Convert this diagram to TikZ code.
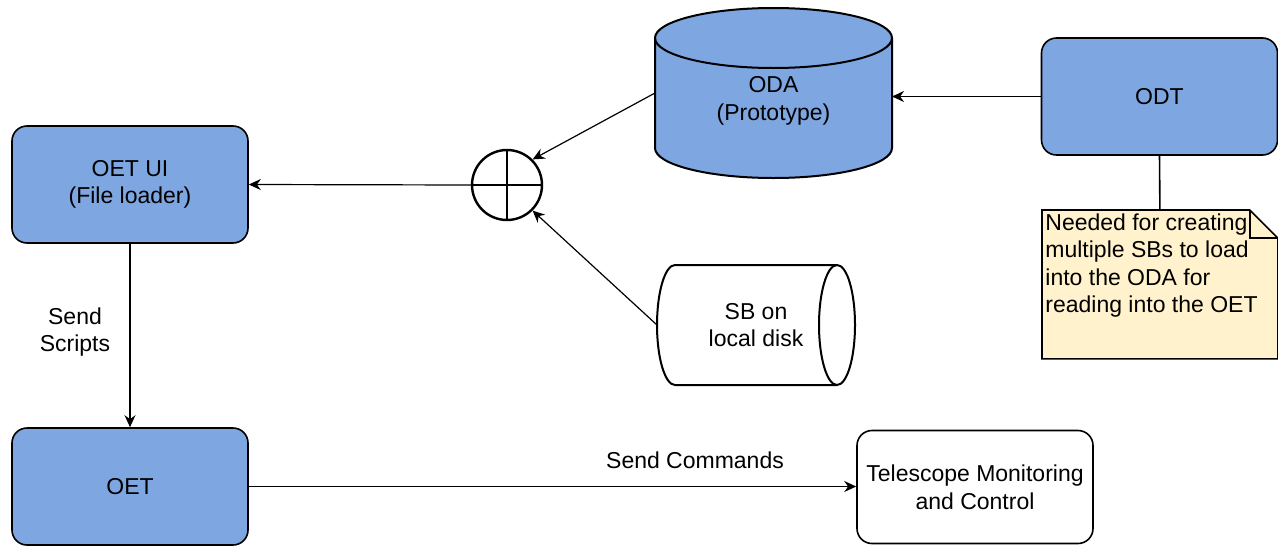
\documentclass[tikz,border=0pt]{standalone}
\usepackage{fontspec}
\setmainfont{Liberation Sans}
\usepackage{tikz}
\usetikzlibrary{arrows.meta,positioning,backgrounds}
\definecolor{drawBlue}{HTML}{7EA6E0}
\definecolor{noteYellow}{HTML}{FFF2CC}

\begin{document}
\begin{tikzpicture}[
  x=0.5pt, y=0.5pt,
  font=\fontsize{11.5}{13.8}\selectfont,
  box/.style={draw, rounded corners=7.5pt, minimum width=118pt, minimum height=58.5pt, align=center, line width=0.8pt},
  bluebox/.style={box, fill=drawBlue},
  whitebox/.style={box, fill=white},
  dbarea/.style={inner sep=0pt, outer sep=0pt, align=center},
  dbline/.style={draw, line width=1pt},
  merge/.style={circle, draw, line width=1.2pt, minimum size=35pt, inner sep=0pt},
  note/.style={inner sep=1.5pt},
  lbl/.style={align=center},
  arrow/.style={-{Stealth[length=6pt, width=5.5pt]}, line width=0.6pt},
]
\useasboundingbox (0,0) rectangle (1278,548);

\node[bluebox] (oetui) at (130,363.5) {OET UI\\(File loader)};
\node[bluebox] (oet) at (130,61.5) {OET};
\node[whitebox, minimum height=56.5pt] (tmc) at (975,61) {Telescope Monitoring\\and Control};
\node[bluebox] (odt) at (1159.5,451.5) {ODT};
\node[dbarea, minimum width=118.5pt, minimum height=85pt] (oda) at (773.5,455) {\raisebox{-4pt}[\height][\depth]{\begin{tabular}{@{}c@{}}ODA\\(Prototype)\end{tabular}}};
\node[dbarea, minimum width=99pt, minimum height=60pt] (sb) at (756,223) {SB on\\local disk};
\node[merge] (sum) at (507,363) {};
\draw[line width=1.2pt] (sum.north) -- (sum.south) (sum.west) -- (sum.east);

\node[note, anchor=north west] (note) at (1042,338) {\parbox[t][71pt][t]{114.5pt}{\raggedright Needed for creating\\multiple SBs to load\\into the ODA for\\reading into the OET}};

\begin{scope}[on background layer]
% ODA drum
\draw[dbline, fill=drawBlue] ([yshift=-15pt]oda.north west) -- ([yshift=15pt]oda.south west)
  arc[start angle=180, end angle=360, x radius=59.25pt, y radius=15pt]
  -- ([yshift=-15pt]oda.north east)
  arc[start angle=0, end angle=180, x radius=59.25pt, y radius=15pt] -- cycle;
\draw[dbline] ([yshift=-15pt]oda.north west) arc[start angle=180, end angle=360, x radius=59.25pt, y radius=15pt];
% SB disk lying down
\draw[dbline, fill=white] ([xshift=9pt]sb.north west) -- ([xshift=-9pt]sb.north east)
  arc[start angle=90, end angle=-90, x radius=9pt, y radius=30pt]
  -- ([xshift=9pt]sb.south west)
  arc[start angle=270, end angle=90, x radius=9pt, y radius=30pt] -- cycle;
\draw[dbline] ([xshift=-9pt]sb.north east) arc[start angle=90, end angle=270, x radius=9pt, y radius=30pt];
% note with folded corner
\draw[fill=noteYellow, line width=0.8pt] (note.north west) -- ([xshift=-14pt]note.north east) -- ([yshift=-14pt]note.north east) -- (note.south east) -- (note.south west) -- cycle;
\draw[line width=0.8pt] ([xshift=-14pt]note.north east) |- ([yshift=-14pt]note.north east);
\end{scope}

\node[lbl] (scripts) at (75,216) {Send\\Scripts};
\node[lbl] (cmds) at (695,88) {Send Commands};

% connectors
\draw[arrow] (odt.west) -- (odt.west -| oda.east);
\draw[arrow] (oda.west) -- (sum.45);
\draw[arrow] (sb.west) -- (sum.-45);
\draw[arrow] (sum.west) -- (oetui.east);
\draw[arrow] (oetui) -- (oet);
\draw[arrow] (oet.east) -- (oet.east -| tmc.west);
\draw[line width=0.8pt] (odt.south) -- (note.north);
\end{tikzpicture}
\end{document}
